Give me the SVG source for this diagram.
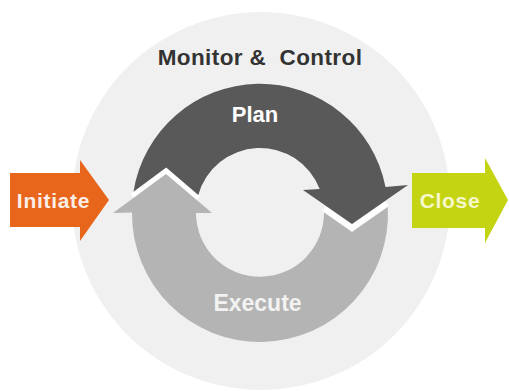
<svg xmlns="http://www.w3.org/2000/svg" width="509" height="391" viewBox="0 0 509 391">
  <style>
    .lbl { font-family: "Liberation Sans", Arial, sans-serif; font-weight: bold; text-anchor: middle; }
    .seam { fill: none; stroke: #ffffff; stroke-width: 5.5; stroke-linejoin: miter; }
  </style>
  <rect width="509" height="391" fill="#ffffff"/>

  <!-- Monitor & Control: the surrounding disc -->
  <g id="monitor-control">
    <circle cx="261" cy="201" r="189" fill="#f0f0f0"/>
    <text class="lbl" x="260" y="65" font-size="22.5" letter-spacing="0.4" fill="#333333" style="white-space:pre">Monitor &amp;  Control</text>
  </g>

  <!-- white seams between the two cycle arrows -->
  <g id="seams">
    <polyline class="seam" points="132.5,196 166.1,170.8 198.5,198"/>
    <polyline class="seam" points="324,208.6 352,228 387,203.6"/>
  </g>

  <!-- Execute: lower light-grey arc, head pointing up on the left -->
  <g id="execute">
    <path d="M166,174 L212,213 L196,213 A64,64 0 0 0 324,212.6 L352,232 L387.8,207 A128,128 0 1 1 132,212.5 L113,213 Z" fill="#b4b4b4"/>
    <text class="lbl" x="257.5" y="311" font-size="23" fill="#f2f2f2">Execute</text>
  </g>

  <!-- Plan: upper dark arc, head pointing down on the right -->
  <g id="plan">
    <path d="M133.5,191.7 A128,128 0 0 1 385.5,187 L408,185 L352,224 L303,190 L319.7,189 A64,64 0 0 0 198.3,194.9 L166.2,167.6 Z" fill="#595959"/>
    <text class="lbl" x="255" y="122" font-size="22" fill="#ffffff">Plan</text>
  </g>

  <!-- Initiate: orange entry arrow -->
  <g id="initiate">
    <path d="M10,173 L80,173 L80,160 L109,200 L80,241 L80,227 L10,227 Z" fill="#e8661c"/>
    <text class="lbl" x="53.5" y="208" font-size="21" letter-spacing="0.7" fill="#fbeee6">Initiate</text>
  </g>

  <!-- Close: green exit arrow -->
  <g id="close">
    <path d="M412,173 L485,173 L485,158 L508,200 L485,243 L485,228 L412,228 Z" fill="#c4d413"/>
    <text class="lbl" x="450" y="208" font-size="21" letter-spacing="0.7" fill="#f6f8cc">Close</text>
  </g>
</svg>
